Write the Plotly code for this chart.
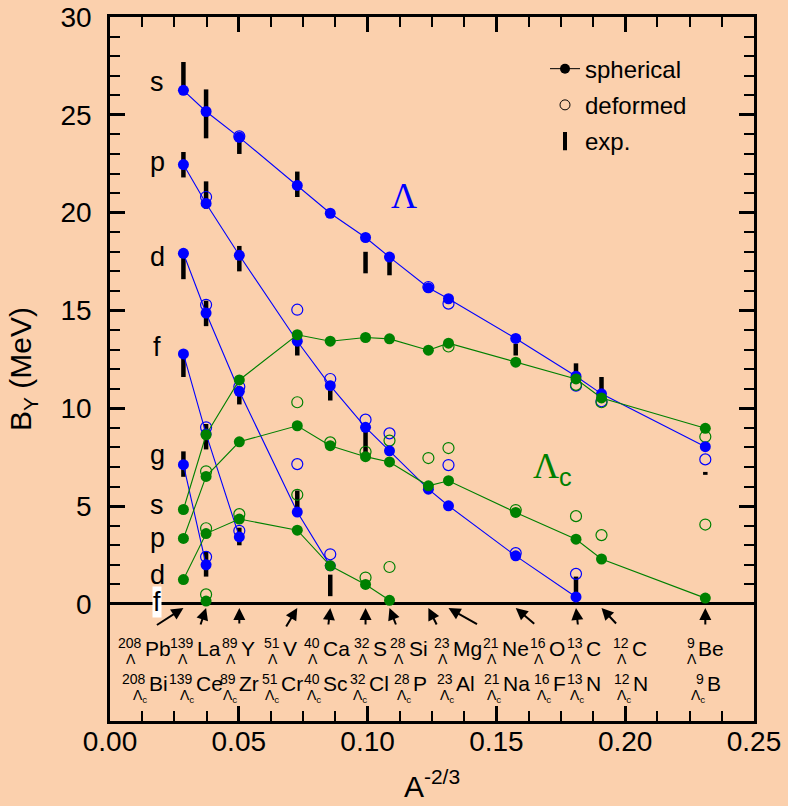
import plotly.graph_objects as go

# ---------------- data ----------------
mass = [208, 139, 89, 51, 40, 32, 28, 23, 21, 16, 13, 12, 9]
x_a = [0.0285, 0.0373, 0.0502, 0.0727, 0.0855, 0.0992, 0.1085,
       0.1236, 0.1314, 0.1575, 0.1809, 0.1908, 0.2311]   # A^(-2/3)

# Lambda hypernuclei, spherical
lam_s = [26.25, 25.17, 23.85, 21.39, 19.97, 18.73, 17.73, 16.16, 15.60, 13.57, 11.64, 10.74, 8.04]
lam_p = [22.46, 20.47, 17.82, 13.43, 11.16, 9.03, 7.83, 5.87, 5.02, 2.46, 0.36, None, None]
lam_d = [17.92, 14.87, 10.87, 4.70, 1.95, None, None, None, None, None, None, None, None]
lam_f = [12.78, 8.69, 3.43, None, None, None, None, None, None, None, None, None, None]
lam_g = [7.12, 2.00, None, None, None, None, None, None, None, None, None, None, None]

# Lambda_c hypernuclei, spherical
lamc_s = [4.83, 8.65, 11.45, 13.76, 13.43, 13.62, 13.55, 12.97, 13.33, 12.36, 11.50, 10.53, 8.98]
lamc_p = [3.35, 6.52, 8.29, 9.11, 8.09, 7.53, 7.26, 6.04, 6.30, 4.68, 3.31, 2.30, 0.30]
lamc_d = [1.25, 3.60, 4.34, 3.77, 1.95, 1.00, 0.19, None, None, None, None, None, None]
lamc_f = [None, 0.15, None, None, None, None, None, None, None, None, None, None, None]

# deformed (open circles)
lam_def_s = [None, None, 23.9, None, None, None, None, 16.2, 15.35, None, 11.16, 10.36, 7.39]
lam_def_p = [None, 20.8, None, 15.04, 11.5, 9.42, 8.72, None, 7.10, 2.6, 1.54, None, None]
lam_def_d = [None, 15.29, 11.1, 7.15, 2.54, None, None, None, None, None, None, None, None]
lam_def_f = [None, 9.03, 3.74, None, None, None, None, None, None, None, None, None, None]
lam_def_g = [None, 2.41, None, None, None, None, None, None, None, None, None, None, None]

lamc_def_s = [None, None, None, None, None, None, None, None, 13.16, None, 11.2, 10.31, 8.55]
lamc_def_p = [None, 6.78, None, 10.31, 8.26, 7.78, 8.35, 7.46, 7.97, 4.8, 4.49, 3.52, 4.06]
lamc_def_d = [None, 3.87, 4.59, 5.58, None, 1.35, 1.89, None, None, None, None, None, None]
lamc_def_f = [None, 0.49, None, None, None, None, None, None, None, None, None, None, None]

# experimental ranges
exp_mass = [208, 208, 208, 208, 208, 139, 139, 139, 139, 139, 89, 89, 89, 89,
            51, 51, 51, 40, 40, 32, 32, 28, 16, 13, 13, 12, 9]
exp_lo = [26.3, 21.8, 16.6, 11.6, 6.5, 23.8, 20.2, 14.2, 7.9, 1.4, 23.0, 17.0, 10.2, 3.0,
          20.8, 12.7, 4.5, 10.4, 0.4, 16.9, 7.7, 16.8, 12.7, 11.4, 0.6, 10.6, 6.6]
exp_hi = [27.7, 23.1, 17.9, 12.8, 7.8, 26.3, 21.6, 15.5, 9.2, 2.7, 24.1, 18.3, 11.1, 3.9,
          22.1, 13.8, 5.8, 11.4, 1.5, 18.0, 8.8, 17.7, 13.3, 12.3, 1.4, 11.6, 6.75]

# nuclide labels
row1_sym = ["Pb", "La", "Y", "V", "Ca", "S", "Si", "Mg", "Ne", "O", "C", "C", "Be"]
row2_sym = ["Bi", "Ce", "Zr", "Cr", "Sc", "Cl", "P", "Al", "Na", "F", "N", "N", "B"]
orbitals = ["s", "p", "d", "f", "g", "s", "p", "d", "f"]

x_ticks = [0.0, 0.05, 0.10, 0.15, 0.20, 0.25]
x_ticktext = ["0.00", "0.05", "0.10", "0.15", "0.20", "0.25"]
y_ticks = [0, 5, 10, 15, 20, 25, 30]

# ---------------- layout constants ----------------
W, H = 788, 806
ML, MR, MT, MB = 110, 34, 17, 85
PW = W - ML - MR
BG = "#FBD0AD"
BLUE = "#0000FF"
GREEN = "#008000"
FONT = "Arial, Liberation Sans, sans-serif"

# label placement (pixel positions of element-symbol left edges)
row1_edge_px = [144, 196, 240, 282, 322, 372, 408, 452, 501, 548, 585, 631, 697]
row2_edge_px = [148, 195, 238, 280, 322, 368, 412, 455, 502, 552, 585, 632, 706]
arrow_ax = [-28, -6, 0, -12, -2, 0, 7, 9, 30, 20, 2, 16, 0]
arrow_ay = [18, 18, 17, 20, 18, 18, 18, 18, 17, 17, 18, 17, 18]
orbital_label_y = [26.66, 22.58, 17.72, 13.13, 7.61, 5.06, 3.37, 1.48, 0.1]

fig = go.Figure()

# experimental bars
ex, ey = [], []
for m, lo, hi in zip(exp_mass, exp_lo, exp_hi):
    xv = x_a[mass.index(m)]
    ex += [xv, xv, None]
    ey += [lo, hi, None]
fig.add_trace(go.Scatter(x=ex, y=ey, mode="lines", line=dict(color="black", width=4.5),
                         showlegend=False, hoverinfo="skip"))

# deformed open circles
for arr, col in [(lam_def_s, BLUE), (lam_def_p, BLUE), (lam_def_d, BLUE), (lam_def_f, BLUE),
                 (lam_def_g, BLUE), (lamc_def_s, GREEN), (lamc_def_p, GREEN),
                 (lamc_def_d, GREEN), (lamc_def_f, GREEN)]:
    fig.add_trace(go.Scatter(x=x_a, y=arr, mode="markers",
                             marker=dict(symbol="circle-open", size=11, color=col,
                                         line=dict(width=1.2, color=col)),
                             showlegend=False))

# spherical lines
for arr, col in [(lam_s, BLUE), (lam_p, BLUE), (lam_d, BLUE), (lam_f, BLUE), (lam_g, BLUE),
                 (lamc_s, GREEN), (lamc_p, GREEN), (lamc_d, GREEN), (lamc_f, GREEN)]:
    fig.add_trace(go.Scatter(x=x_a, y=arr, mode="lines+markers",
                             line=dict(color=col, width=1.1),
                             marker=dict(size=11, color=col),
                             connectgaps=False, showlegend=False))

# legend entries
fig.add_trace(go.Scatter(x=[None], y=[None], mode="lines+markers", name="spherical",
                         line=dict(color="black", width=1), marker=dict(size=10, color="black"),
                         legendgroup="a"))
fig.add_trace(go.Scatter(x=[None], y=[None], mode="markers", name="deformed",
                         marker=dict(symbol="circle-open", size=10, color="black",
                                     line=dict(width=1, color="black")),
                         legendgroup="b"))
fig.add_trace(go.Scatter(x=[None], y=[None], mode="markers", name="exp.",
                         marker=dict(symbol="line-ns", size=13, color="black",
                                     line=dict(width=4, color="black")),
                         legendgroup="c"))

ann = []

# orbital letters
for lab, yv in zip(orbitals, orbital_label_y):
    a = dict(x=(157 - ML) / PW, xref="paper", y=yv, yref="y", text=lab, showarrow=False,
             font=dict(family=FONT, size=27, color="black"), xanchor="center", yanchor="middle",
             borderpad=0)
    if lab == "f" and yv < 1:
        a["bgcolor"] = "white"
    ann.append(a)

# Lambda / Lambda_c labels
ann.append(dict(x=(404 - ML) / PW, xref="paper", y=20.84, yref="y", text="Λ", showarrow=False,
                font=dict(family="Liberation Serif, Times New Roman, serif", size=36, color=BLUE),
                xanchor="center", yanchor="middle"))
ann.append(dict(x=(531 - ML) / PW, xref="paper", y=6.9, yref="y",
                text="Λ<sub><span style=\"font-family:Arial, Liberation Sans\">c</span></sub>",
                showarrow=False,
                font=dict(family="Liberation Serif, Times New Roman, serif", size=36, color=GREEN),
                xanchor="left", yanchor="middle"))

# arrows from labels to the axis
for xv, axv, ayv in zip(x_a, arrow_ax, arrow_ay):
    ann.append(dict(x=xv, y=0, xref="x", yref="y", yshift=-4, text="", showarrow=True,
                    ax=axv, ay=ayv, arrowhead=2, arrowsize=1.2, arrowwidth=2, arrowcolor="black"))

# nuclide labels
for m, s1, s2, e1, e2 in zip(mass, row1_sym, row2_sym, row1_edge_px, row2_edge_px):
    ms = str(m)
    mw = 7.8 * len(ms)
    base = dict(yref="y", y=0, xref="paper", showarrow=False, borderpad=0, yanchor="middle")
    # row 1 (Lambda)
    ann.append(dict(base, x=(e1 - ML) / PW, yshift=-45, text=s1, xanchor="left",
                    font=dict(family=FONT, size=21, color="black")))
    ann.append(dict(base, x=(e1 - 1 - ML) / PW, yshift=-39, text=ms, xanchor="right",
                    font=dict(family=FONT, size=14, color="black")))
    ann.append(dict(base, x=(e1 - 1 - mw / 2 - ML) / PW, yshift=-55, text="Λ", xanchor="center",
                    font=dict(family=FONT, size=14, color="black")))
    # row 2 (Lambda_c)
    ann.append(dict(base, x=(e2 - ML) / PW, yshift=-80, text=s2, xanchor="left",
                    font=dict(family=FONT, size=21, color="black")))
    ann.append(dict(base, x=(e2 - 1 - ML) / PW, yshift=-75, text=ms, xanchor="right",
                    font=dict(family=FONT, size=14, color="black")))
    ann.append(dict(base, x=(e2 - ML) / PW, yshift=-92, text="Λ<sub>c</sub>", xanchor="right",
                    font=dict(family=FONT, size=14, color="black")))

fig.update_layout(
    width=W, height=H, autosize=False,
    margin=dict(l=ML, r=MR, t=MT, b=MB, pad=0, autoexpand=False),
    paper_bgcolor=BG, plot_bgcolor=BG,
    font=dict(family=FONT, color="black"),
    annotations=ann,
    legend=dict(x=(545 - ML) / PW, xanchor="left", y=0.958, yanchor="top",
                bgcolor="rgba(0,0,0,0)", font=dict(family=FONT, size=24, color="black"),
                tracegroupgap=2, itemwidth=30),
    xaxis=dict(range=[0, 0.25], tickvals=x_ticks, ticktext=x_ticktext, automargin=False,
               ticks="inside", ticklen=15, tickwidth=2.5, tickcolor="black",
               minor=dict(dtick=0.0125, tick0=0, ticks="inside", ticklen=10, tickwidth=2,
                          tickcolor="black", showgrid=False),
               showline=True, linewidth=2.5, linecolor="black", mirror="ticks",
               showgrid=False, zeroline=False,
               tickfont=dict(family=FONT, size=28, color="black"), ticklabelstandoff=-6,
               title=dict(text="A<sup>-2/3</sup>", font=dict(family=FONT, size=30, color="black"),
                          standoff=20)),
    yaxis=dict(range=[-5.98, 30], tickvals=y_ticks, automargin=False,
               ticks="inside", ticklen=15, tickwidth=2.5, tickcolor="black",
               minor=dict(tickvals=list(range(0, 31)), ticks="inside", ticklen=10, tickwidth=2,
                          tickcolor="black", showgrid=False),
               showline=True, linewidth=2.5, linecolor="black", mirror="ticks",
               showgrid=False, zeroline=True, zerolinecolor="black", zerolinewidth=2.5,
               tickfont=dict(family=FONT, size=28, color="black"), ticklabelstandoff=10,
               title=dict(text="B<sub>Y</sub> (MeV)", font=dict(family=FONT, size=30, color="black"),
                          standoff=20)),
)

fig.write_html("out.html", config={"displayModeBar": False},
               post_script="document.body.style.margin='0';")
